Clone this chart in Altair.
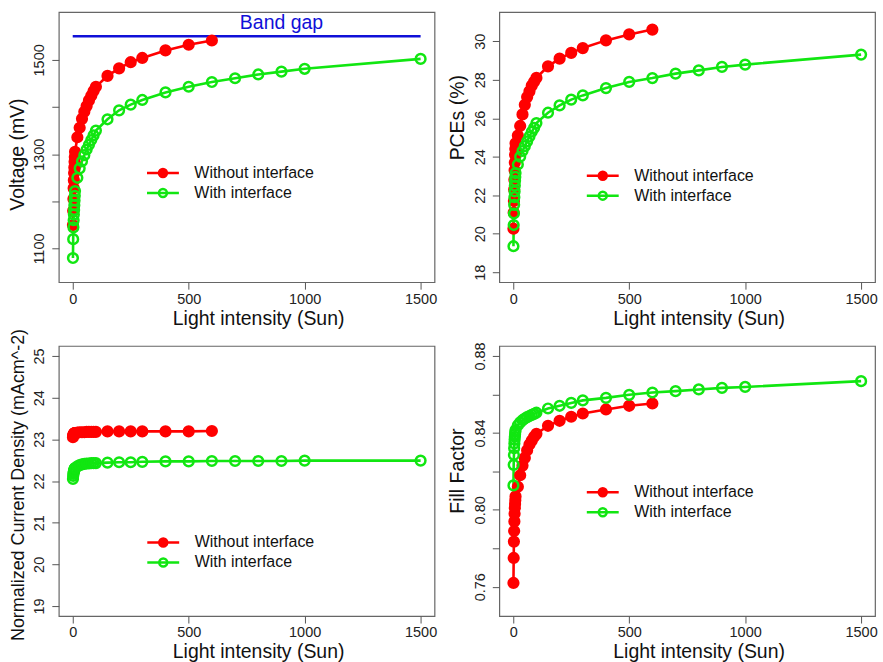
import altair as alt
import pandas as pd

# ---- data -----------------------------------------------------------------
SERIES = ["Without interface", "With interface"]
RED = "#FF0000"
GREEN = "#11E611"
BLUE = "#1010D8"

intensity_without = [1, 2, 3, 4, 5, 6, 7, 8, 9, 10, 20, 30, 40, 50, 60, 70, 80, 90,
                     100, 150, 200, 250, 300, 400, 500, 600]
intensity_with = intensity_without + [700, 800, 900, 1000, 1500]

voc_without = [1150, 1180, 1205, 1228, 1245, 1260, 1272, 1284, 1294, 1305, 1336, 1356,
               1375, 1390, 1402, 1414, 1424, 1434, 1443, 1466, 1482, 1495, 1504, 1520,
               1532, 1541]
voc_with = [1080, 1120, 1145, 1160, 1172, 1182, 1192, 1202, 1212, 1222, 1250, 1270,
            1285, 1298, 1310, 1320, 1330, 1340, 1350, 1374, 1393, 1405, 1415, 1431,
            1443, 1453, 1461, 1469, 1475, 1481, 1502]

pce_without = [20.26, 21.1, 21.7, 22.3, 22.8, 23.3, 23.7, 24.1, 24.4, 24.7, 25.1, 25.6,
               26.2, 26.7, 27.1, 27.4, 27.7, 27.9, 28.1, 28.7, 29.1, 29.4, 29.65, 30.05,
               30.36, 30.61]
pce_with = [19.35, 20.45, 21.05, 21.5, 21.9, 22.2, 22.5, 22.75, 22.95, 23.15, 23.6, 24.0,
            24.3, 24.55, 24.8, 25.05, 25.3, 25.5, 25.75, 26.29, 26.67, 26.97, 27.19,
            27.57, 27.89, 28.09, 28.32, 28.49, 28.67, 28.79, 29.31]

jsc_without = [23.05, 23.09, 23.11, 23.12, 23.13, 23.14, 23.14, 23.15, 23.15, 23.15,
               23.16, 23.17, 23.17, 23.17, 23.18, 23.18, 23.18, 23.18, 23.18, 23.19,
               23.19, 23.19, 23.19, 23.19, 23.19, 23.2]
jsc_with = [22.05, 22.12, 22.17, 22.2, 22.23, 22.25, 22.27, 22.29, 22.3, 22.31, 22.35,
            22.38, 22.4, 22.41, 22.42, 22.42, 22.43, 22.43, 22.43, 22.44, 22.45, 22.45,
            22.46, 22.47, 22.47, 22.48, 22.48, 22.48, 22.48, 22.49, 22.49]

ff_without = [0.762, 0.775, 0.7835, 0.789, 0.794, 0.798, 0.801, 0.803, 0.805, 0.807,
              0.812, 0.818, 0.823, 0.827, 0.831, 0.834, 0.836, 0.838, 0.8395, 0.8437,
              0.8463, 0.8484, 0.8501, 0.8522, 0.8541, 0.8553]
ff_with = [0.8127, 0.8234, 0.8285, 0.832, 0.8345, 0.8365, 0.838, 0.8393, 0.8405, 0.8415,
           0.844, 0.8455, 0.8466, 0.8475, 0.8482, 0.8488, 0.8494, 0.8499, 0.8505, 0.8527,
           0.8541, 0.8556, 0.8569, 0.8582, 0.8598, 0.861, 0.8617, 0.8626, 0.8634, 0.8639,
           0.8669]

band_gap_mv = 1550
band_gap_span = [0, 1500]
band_gap_label = "Band gap"

x_ticks = [0, 500, 1000, 1500]

# ---- styling --------------------------------------------------------------
FONT = "Liberation Sans"
W, H = 377, 271
X_DOMAIN = [-60, 1560]
LEGEND_PATH = "M-2,0H2M0.5,0A0.5,0.5,0,1,1,-0.5,0A0.5,0.5,0,1,1,0.5,0Z"


def frame(without, with_):
    a = pd.DataFrame({"intensity": intensity_without, "value": without, "series": SERIES[0]})
    b = pd.DataFrame({"intensity": intensity_with, "value": with_, "series": SERIES[1]})
    return pd.concat([a, b], ignore_index=True)


def panel(without, with_, title, domain, ticks, legend_xy, title_y, title_size=19.5,
          label_expr=None, fmt="d", extra=None):
    x_axis = alt.Axis(values=x_ticks, format="d", title="Light intensity (Sun)",
                      labelPadding=3, titleX=200, titleY=42, titleBaseline="alphabetic",
                      titleAlign="center")
    y_kwargs = dict(values=ticks, format=fmt, title=title, labelAngle=270,
                    labelAlign="center", labelBaseline="alphabetic", labelPadding=8,
                    titleAngle=270, titleX=-35.5, titleY=title_y, titleAlign="center",
                    titleBaseline="alphabetic", titleFontSize=title_size)
    if label_expr:
        y_kwargs["labelExpr"] = label_expr
    y_axis = alt.Axis(**y_kwargs)

    legend = alt.Legend(title=None, orient="none", legendX=legend_xy[0],
                        legendY=legend_xy[1], symbolType=LEGEND_PATH, symbolSize=256,
                        symbolStrokeWidth=2.5, labelFontSize=16, labelFont=FONT,
                        labelColor="#111", labelOffset=22, rowPadding=1, padding=0)
    stroke_scale = alt.Scale(domain=SERIES, range=[RED, GREEN])
    fill_scale = alt.Scale(domain=SERIES, range=[RED, "transparent"])

    base = alt.Chart(frame(without, with_)).encode(
        x=alt.X("intensity:Q", scale=alt.Scale(domain=X_DOMAIN, nice=False, zero=False),
                axis=x_axis),
        y=alt.Y("value:Q", scale=alt.Scale(domain=domain, nice=False, zero=False),
                axis=y_axis),
    )
    lines = base.mark_line(strokeWidth=2.6).encode(
        stroke=alt.Stroke("series:N", scale=stroke_scale, legend=legend)
    )
    points = base.mark_point(shape="circle", size=95, strokeWidth=2.5, opacity=1).encode(
        stroke=alt.Stroke("series:N", scale=stroke_scale, legend=legend),
        fill=alt.Fill("series:N", scale=fill_scale, legend=legend),
    )
    layers = [lines, points]
    if extra is not None:
        layers = extra + layers
    return alt.layer(*layers).properties(width=W, height=H)


# band gap reference line and its label for the voltage panel
gap_df = pd.DataFrame({"x": [band_gap_span[0]], "x2": [band_gap_span[1]],
                       "y": [band_gap_mv], "label": [band_gap_label]})
gap_rule = alt.Chart(gap_df).mark_rule(color=BLUE, strokeWidth=2.7).encode(
    x="x:Q", x2="x2:Q", y="y:Q")
gap_text = alt.Chart(gap_df).mark_text(color=BLUE, font=FONT, fontSize=19.5,
                                       baseline="bottom", dy=-3).encode(
    x=alt.datum(900), y="y:Q", text="label:N")

p1 = panel(voc_without, voc_with, "Voltage (mV)", [1028.8, 1601.2],
           [1100, 1200, 1300, 1400, 1500], (95, 152), 142.5,
           label_expr="(datum.value == 1200 || datum.value == 1400) ? '' : datum.label",
           extra=[gap_rule, gap_text])
p2 = panel(pce_without, pce_with, "PCEs (%)", [17.48, 31.52],
           [18, 20, 22, 24, 26, 28, 30], (94.3, 154.7), 105.5)
p3 = panel(jsc_without, jsc_with, "Normalized Current Density (mAcm^-2)",
           [18.76, 25.24], [19, 20, 21, 22, 23, 24, 25], (95.3, 187.7), 139,
           title_size=18)
p4 = panel(ff_without, ff_with, "Fill Factor", [0.7448, 0.8852],
           [0.76, 0.78, 0.80, 0.82, 0.84, 0.86, 0.88], (94.3, 137.3), 125,
           label_expr="(round(datum.value * 100) % 4 == 0) ? datum.label : ''",
           fmt=".2f")

chart = (
    alt.concat(p1, p2, p3, p4, columns=2,
               spacing=alt.RowColnumber(row=64, column=65), bounds="flush")
    .resolve_scale(x="independent", y="independent", stroke="independent",
                   fill="independent")
    .resolve_legend(stroke="independent", fill="independent")
    .configure_view(stroke="#666", strokeWidth=1.2)
    .configure_axis(grid=False, domain=False, tickColor="#555", tickSize=7, tickWidth=1,
                    labelFont=FONT, labelFontSize=14.5, labelColor="#222",
                    titleFont=FONT, titleFontSize=19.5, titleFontWeight="normal",
                    titleColor="#111", labelOverlap=False, labelFlush=False)
    .properties(padding={"left": 6, "top": 10, "right": 5, "bottom": 5},
                background="white")
)

chart.save("out.html", embed_options={"renderer": "svg", "actions": False})
